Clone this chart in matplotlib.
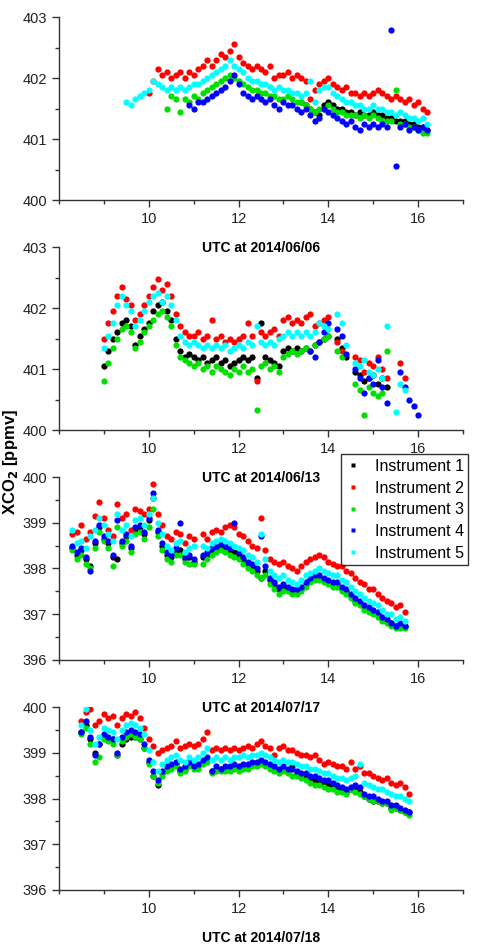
import numpy as np
import matplotlib.pyplot as plt
from matplotlib.ticker import MultipleLocator

plt.rcParams['font.family'] = ['Liberation Sans', 'DejaVu Sans']

labels = ['Instrument 1', 'Instrument 2', 'Instrument 3', 'Instrument 4', 'Instrument 5']
colors = ['#000000', '#ff0000', '#00e000', '#0000ff', '#00ffff']
dates = ['2014/06/06', '2014/06/13', '2014/07/17', '2014/07/18']
ylims = [(400, 403), (400, 403), (396, 400), (396, 400)]
step = 0.1  # h between samples

nan = np.nan

# ---- 2014/06/06 ----
d0606_start = [13.4, 10.0, 10.4, 10.9, 9.5]
d0606_i1 = [401.6, 401.55, 401.5, 401.45, 401.4, 401.55, 401.6, 401.55, 401.5, 401.5,
            401.45, 401.45, 401.4, 401.45, 401.4, 401.4, 401.45, 401.4, 401.4, 401.35,
            401.35, 401.3, 401.3, 401.3, 401.25, 401.25, 401.2, 401.2, 401.15]
d0606_i2 = [401.75, 401.95, 402.15, 402.05, 402.1, 402.0, 402.05, 402.1, 402.0, 402.1,
            402.05, 402.15, 402.2, 402.3, 402.2, 402.3, 402.4, 402.35, 402.45, 402.55,
            402.35, 402.25, 402.2, 402.15, 402.2, 402.15, 402.1, 402.2, 402.0, 402.05,
            402.05, 402.1, 402.0, 402.05, 402.0, 401.95, 401.65, 401.8, 401.9, 401.95,
            402.0, 401.9, 401.85, 401.8, 401.85, 401.75, 401.75, 401.7, 401.75, 401.7,
            401.75, 401.8, 401.75, 401.7, 401.65, 401.7, 401.65, 401.6, 401.65, 401.55,
            401.6, 401.5, 401.45]
d0606_i3 = [401.5, 401.7, 401.65, 401.45, 401.65, 401.6, 401.7, 401.65, 401.75, 401.8,
            401.85, 401.9, 401.95, 402.0, 402.05, 402.0, 401.95, 401.9, 401.85, 401.8,
            401.8, 401.75, 401.75, 401.7, 401.7, 401.65, 401.65, 401.7, 401.65, 401.6,
            401.6, 401.55, 401.5, 401.45, 401.5, 401.5, 401.55, 401.5, 401.45, 401.45,
            401.4, 401.4, 401.4, 401.35, 401.4, 401.35, 401.4, 401.35, 401.3, 401.3,
            401.3, 401.8, 401.25, 401.25, 401.2, 401.2, 401.15, 401.1, 401.1]
d0606_i4 = [401.55, 401.5, 401.6, 401.6, 401.65, 401.7, 401.75, 401.8, 401.85, 401.95,
            402.05, 401.9, 401.75, 401.7, 401.65, 401.7, 401.65, 401.6, 401.65, 401.55,
            401.5, 401.6, 401.55, 401.55, 401.5, 401.45, 401.5, 401.4, 401.3, 401.35,
            401.5, 401.45, 401.4, 401.35, 401.3, 401.25, 401.3, 401.2, 401.15, 401.25,
            401.2, 401.25, 401.2, 401.25, 401.2, 402.78, 400.56, 401.2, 401.25, 401.15,
            401.2, 401.15, 401.2, 401.15]
d0606_i5 = [401.6, 401.55, 401.65, 401.7, 401.75, 401.8, 401.95, 401.9, 401.85, 401.8,
            401.85, 401.8, 401.85, 401.8, 401.85, 401.9, 401.9, 401.95, 402.0, 402.05,
            402.1, 402.15, 402.2, 402.3, 402.2, 402.15, 402.1, 402.0, 401.95, 401.95,
            401.9, 401.9, 401.85, 401.8, 401.85, 401.8, 401.8, 401.75, 401.75, 401.7,
            401.75, 401.95, 401.6, 401.8, 401.85, 401.85, 401.75, 401.7, 401.65, 401.6,
            401.6, 401.55, 401.55, 401.5, 401.5, 401.55, 401.5, 401.5, 401.45, 401.45,
            401.4, 401.45, 401.4, 401.35, 401.35, 401.3, 401.35, 401.25]

# ---- 2014/06/13 ----
d0613_start = [9.0, 9.0, 9.0, 13.6, 9.0]
d0613_i1 = [401.05, 401.3, 401.5, 401.6, 401.75, 401.8, 401.7, 401.4, 401.55, 401.65,
            401.75, 401.95, 402.05, 402.1, 401.95, 401.8, 401.5, 401.3, 401.2, 401.25,
            401.2, 401.15, 401.2, 401.1, 401.15, 401.2, 401.1, 401.15, 401.05, 401.1,
            401.15, 401.2, 401.15, 401.2, 400.85, 401.75, 401.2, 401.15, 401.1, 401.05,
            401.3, 401.35, 401.3, 401.35, 401.3, 401.35, 401.3, 401.4, 401.45, 401.5,
            401.55, nan, 401.5, 401.35, 401.2, nan, 400.95, 400.9, 400.8, 400.85,
            400.9, 400.75, 400.85, 400.7]
d0613_i2 = [401.5, 401.75, 401.95, 402.2, 402.35, 402.15, 402.05, 401.8, 401.9, 402.05,
            402.2, 402.35, 402.47, 402.3, 402.4, 402.2, 401.9, 401.7, 401.6, 401.55,
            401.55, 401.6, 401.5, 401.55, 401.8, 401.5, 401.55, 401.45, 401.5, 401.45,
            401.5, 401.55, 401.75, 401.55, 400.8, 401.6, 401.55, 401.6, 401.65, 401.55,
            401.8, 401.85, 401.75, 401.8, 401.75, 401.85, 401.9, 401.7, 401.75, 401.8,
            401.85, nan, 401.45, 401.3, nan, nan, 401.2, 401.15, 400.95, 401.1,
            401.05, 401.2, 401.0, 400.85, nan, nan, 401.1, 400.85]
d0613_i3 = [400.8, 401.1, 401.35, 401.5, 401.65, 401.7, 401.6, 401.35, 401.45, 401.6,
            401.7, 401.8, 401.9, 401.95, 401.85, 401.7, 401.4, 401.2, 401.15, 401.1,
            401.05, 401.1, 401.0, 401.05, 400.95, 401.05, 401.0, 400.95, 400.9, 401.0,
            400.95, 401.05, 400.95, 401.0, 400.33, 401.05, 401.1, 401.0, 401.05, 400.95,
            401.2, 401.25, 401.3, 401.25, 401.3, 401.35, 401.3, 401.4, 401.45, 401.5,
            401.55, nan, 401.3, 401.2, nan, nan, 400.75, 400.65, 400.25, 400.7,
            400.6, 400.55, 400.6, 401.3]
d0613_i4 = [401.3, 401.2, 401.45, 401.6, 401.75, nan, 401.65, 401.55, 401.25, nan,
            401.0, 400.85, 400.6, 400.85, 400.75, 401.15, 400.7, 400.45, nan, nan,
            400.95, 400.7, 400.5, 400.4, 400.25]
d0613_i5 = [401.35, 401.55, 401.75, 402.05, 402.2, 402.05, 401.95, 401.7, 401.8, 401.95,
            402.1, 402.2, 402.25, 402.1, 402.2, 402.05, 401.8, 401.55, 401.45, 401.4,
            401.45, 401.4, 401.35, 401.4, 401.35, 401.4, 401.35, 401.4, 401.3, 401.35,
            401.4, 401.35, 401.45, 401.4, 401.7, 401.45, 401.4, 401.45, 401.4, 401.5,
            401.55, 401.6, 401.55, 401.6, 401.55, 401.6, 401.55, 401.6, 401.75, 401.7,
            401.65, nan, 401.9, 401.75, 401.4, nan, 401.1, 401.05, 401.15, 400.95,
            400.9, 401.0, 400.85, 401.7, nan, 400.3, 400.75, 400.65]

# ---- 2014/07/17 ----
d0717_start = [8.3, 8.3, 8.3, 8.3, 8.3]
d0717_i1 = [398.45, 398.3, 398.4, 398.2, 398.05, 398.55, 398.9, 398.65, 398.55, 398.25,
            398.2, 398.55, 398.7, 398.45, 398.85, 398.9, 398.75, 399.05, 399.55, 398.8,
            398.5, 398.3, 398.25, 398.4, 398.4, 398.2, 398.25, 398.15, nan, 398.25,
            398.3, 398.4, 398.45, 398.5, 398.45, 398.4, 398.35, 398.3, 398.2, 398.1,
            398.05, 397.95, 397.8, 397.95, 397.75, 397.65, 397.55, 397.6, 397.55, 397.5,
            397.5, 397.55, 397.65, 397.75, 397.8, 397.8, 397.75, 397.7, 397.65, 397.65,
            397.55, 397.5, 397.4, 397.3, 397.25, 397.15, 397.1, 397.05, 397.0, 396.9,
            396.85, 396.8, 396.75, 396.75, 396.75]
d0717_i2 = [398.75, 398.8, 398.95, 398.65, 398.8, 399.15, 399.45, 399.1, 398.85, 398.7,
            399.4, 399.1, 399.2, 398.85, 399.3, 399.25, 399.2, 399.3, 399.85, 399.2,
            398.95, 398.7, 398.65, 398.8, 398.75, 398.55, 398.7, 398.65, nan, 398.75,
            398.65, 398.8, 398.85, 398.8, 398.9, 398.95, 398.9, 398.75, 398.7, 398.6,
            398.5, 398.45, 399.1, 398.4, 398.2, 398.15, 398.1, 398.15, 398.05, 398.0,
            397.95, 398.05, 398.15, 398.2, 398.25, 398.3, 398.25, 398.15, 398.1, 398.05,
            398.05, 397.95, 397.9, 397.8, 397.7, 397.65, 397.55, 397.55, 397.45, 397.35,
            397.3, 397.25, 397.15, 397.2, 397.05]
d0717_i3 = [398.4, 398.2, 398.3, 398.1, 398.0, 398.45, 398.8, 398.6, 398.45, 398.05,
            398.9, 398.5, 398.6, 398.35, 398.75, 398.8, 398.65, 398.9, 399.3, 398.7,
            398.4, 398.2, 398.15, 398.3, 398.3, 398.15, 398.1, 398.1, nan, 398.1,
            398.2, 398.3, 398.35, 398.4, 398.35, 398.3, 398.25, 398.2, 398.1, 398.0,
            397.95, 397.85, 397.8, 397.85, 397.65, 397.55, 397.45, 397.5, 397.5, 397.45,
            397.45, 397.5, 397.6, 397.7, 397.75, 397.75, 397.7, 397.65, 397.6, 397.6,
            397.5, 397.45, 397.35, 397.25, 397.2, 397.1, 397.05, 397.0, 396.95, 396.85,
            396.8, 396.75, 396.7, 396.7, 396.7]
d0717_i4 = [398.5, 398.35, 398.45, 398.25, 397.95, 398.6, 398.95, 398.7, 398.6, 398.3,
            399.05, 398.6, 398.75, 398.5, 398.9, 398.95, 398.8, 399.1, 399.65, 398.85,
            398.55, 398.35, 398.3, 398.45, 399.0, 398.25, 398.3, 398.2, nan, 398.3,
            398.35, 398.45, 398.5, 398.55, 398.5, 398.45, 399.0, 398.35, 398.25, 398.15,
            398.1, 398.0, 398.7, 398.05, 397.8, 397.7, 397.6, 397.65, 397.6, 397.55,
            397.55, 397.6, 397.7, 397.8, 397.85, 397.85, 397.8, 397.75, 397.7, 397.7,
            397.6, 397.55, 397.45, 397.35, 397.3, 397.2, 397.15, 397.1, 397.05, 396.95,
            396.9, 396.8, 396.75, 396.8, 396.75]
d0717_i5 = [398.85, 398.55, 398.6, 398.45, 398.7, 398.85, 399.1, 398.95, 398.75, 398.6,
            399.2, 398.85, 398.95, 398.7, 399.05, 399.1, 398.95, 399.2, 399.55, 399.0,
            398.75, 398.5, 398.4, 398.55, 398.6, 398.35, 398.45, 398.5, nan, 398.5,
            398.45, 398.55, 398.6, 398.65, 398.6, 398.55, 398.5, 398.45, 398.4, 398.3,
            398.25, 398.15, 398.75, 398.2, 397.95, 397.85, 397.8, 397.85, 397.75, 397.7,
            397.65, 397.75, 397.85, 397.9, 397.95, 398.0, 397.95, 397.9, 397.85, 397.85,
            397.75, 397.7, 397.6, 397.5, 397.45, 397.35, 397.3, 397.25, 397.2, 397.1,
            397.0, 397.0, 396.9, 396.95, 396.85]

# ---- 2014/07/18 ----
d0718_start = [8.5, 8.5, 8.5, 8.5, 8.5]
d0718_i1 = [399.45, 399.6, 399.3, 399.0, 399.2, 399.35, 399.3, 399.3, 398.95, 399.2,
            399.3, 399.35, 399.35, 399.3, 399.1, 398.8, 398.5, 398.3, 398.55, 398.65,
            398.7, 398.75, 398.6, 398.65, 398.75, 398.7, 398.7, 398.8, 398.85, 398.6,
            398.65, 398.65, 398.65, 398.65, 398.7, 398.65, 398.7, 398.7, 398.75, 398.75,
            398.8, 398.75, 398.7, 398.65, 398.6, 398.65, 398.6, 398.7, 398.55, 398.5,
            398.45, 398.45, 398.4, 398.35, 398.3, 398.3, 398.25, 398.2, 398.2, 398.15,
            398.2, 398.2, 398.15, 398.05, 398.0, 397.95, 397.95, 397.9, 397.9, 397.8,
            397.8, 397.75, 397.7, 397.7]
d0718_i2 = [399.7, 399.9, 399.95, 399.6, 399.7, 399.85, 399.75, 399.8, 399.6, 399.75,
            399.85, 399.8, 399.9, 399.75, 399.55, 399.3, 399.15, 399.0, 399.05, 399.1,
            399.15, 399.25, 399.1, 399.15, 399.2, 399.15, 399.2, 399.3, 399.45, 399.05,
            399.1, 399.05, 399.1, 399.05, 399.1, 399.05, 399.1, 399.15, 399.1, 399.2,
            399.25, 399.15, 399.1, 398.95, 399.1, 399.15, 399.05, 399.05, 399.0, 398.95,
            398.95, 398.9, 398.95, 398.85, 398.75, 398.8, 398.75, 398.7, 398.7, 398.65,
            398.8, 398.65, 398.7, 398.55, 398.55, 398.5, 398.45, 398.4, 398.45, 398.35,
            398.3, 398.35, 398.25, 398.1]
d0718_i3 = [399.4, 399.55, 399.2, 398.8, 398.9, 399.3, 399.25, 399.2, 398.95, 399.25,
            399.35, 399.4, 399.35, 399.3, 399.1, 398.75, 398.5, 398.35, 398.5, 398.6,
            398.65, 398.7, 398.55, 398.6, 398.7, 398.65, 398.65, 398.75, 398.8, 398.55,
            398.6, 398.6, 398.6, 398.6, 398.65, 398.6, 398.65, 398.65, 398.7, 398.7,
            398.75, 398.7, 398.65, 398.6, 398.55, 398.6, 398.55, 398.5, 398.5, 398.45,
            398.4, 398.35, 398.3, 398.3, 398.25, 398.2, 398.2, 398.15, 398.15, 398.1,
            398.2, 398.15, 398.1, 398.05, 398.0, 397.95, 397.95, 397.9, 397.9, 397.75,
            397.8, 397.75, 397.7, 397.65]
d0718_i4 = [399.45, 399.7, 399.35, 398.95, 399.2, 399.4, 399.35, 399.3, 399.0, 399.35,
            399.45, 399.5, 399.45, 399.4, 399.2, 398.85, 398.6, 398.4, 398.6, 398.7,
            398.75, 398.8, 398.65, 398.7, 398.8, 398.7, 398.75, 398.85, 398.9, 398.6,
            398.7, 398.65, 398.7, 398.7, 398.75, 398.7, 398.75, 398.75, 398.8, 398.8,
            398.85, 398.8, 398.75, 398.7, 398.65, 398.7, 398.65, 398.65, 398.6, 398.55,
            398.55, 398.5, 398.5, 398.45, 398.4, 398.4, 398.35, 398.3, 398.25, 398.2,
            398.25, 398.3, 398.25, 398.1, 398.05, 398.05, 398.0, 397.95, 397.95, 397.85,
            397.85, 397.8, 397.75, 397.7]
d0718_i5 = [399.6, 399.95, 399.5, 399.2, 399.35, 399.55, 399.5, 399.45, 399.3, 399.5,
            399.6, 399.65, 399.6, 399.55, 399.4, 399.05, 398.8, 398.6, 398.75, 398.85,
            398.9, 398.95, 398.85, 398.8, 398.9, 398.85, 398.9, 399.0, 399.1, 398.85,
            398.9, 398.85, 398.9, 398.85, 398.9, 398.9, 398.95, 398.9, 398.95, 398.95,
            399.0, 398.95, 398.9, 398.85, 398.8, 398.85, 398.8, 398.8, 398.75, 398.7,
            398.7, 398.65, 398.65, 398.6, 398.55, 398.55, 398.5, 398.45, 398.45, 398.4,
            398.45, 398.5, 398.75, 398.35, 398.3, 398.25, 398.2, 398.2, 398.15, 398.1,
            398.05, 398.05, 398.0, 397.95]

panels = [
    (d0606_start, [d0606_i1, d0606_i2, d0606_i3, d0606_i4, d0606_i5]),
    (d0613_start, [d0613_i1, d0613_i2, d0613_i3, d0613_i4, d0613_i5]),
    (d0717_start, [d0717_i1, d0717_i2, d0717_i3, d0717_i4, d0717_i5]),
    (d0718_start, [d0718_i1, d0718_i2, d0718_i3, d0718_i4, d0718_i5]),
]

fig = plt.figure(figsize=(4.97, 9.47), dpi=100)
bottoms = [0.7888, 0.5459, 0.3031, 0.0602]

for k, (starts, series) in enumerate(panels):
    ax = fig.add_axes([0.1187, bottoms[k], 0.8129, 0.1932])
    ax.set_facecolor('none')  # keep the xlabel above visible
    for i, vals in enumerate(series):
        t = starts[i] + step * np.arange(len(vals))
        ax.plot(t, vals, 'o', ms=4.5, mec='none', color=colors[i], label=labels[i])
    ax.set_xlim(8, 17)
    ax.set_ylim(*ylims[k])
    ax.xaxis.set_major_locator(MultipleLocator(2))
    ax.xaxis.set_minor_locator(MultipleLocator(1))
    ax.yaxis.set_major_locator(MultipleLocator(1))
    ax.yaxis.set_minor_locator(MultipleLocator(0.5))
    ax.set_xticks([10, 12, 14, 16])
    for s in ['top', 'right']:
        ax.spines[s].set_visible(False)
    for s in ['left', 'bottom']:
        ax.spines[s].set_color('#333333')
        ax.spines[s].set_linewidth(1.0)
    ax.tick_params(which='major', direction='out', length=5, width=1,
                   labelsize=10.5, color='#333333', labelcolor='#222222')
    ax.tick_params(which='minor', direction='out', length=3, width=1, color='#333333')
    ax.set_xlabel('UTC at ' + dates[k], fontsize=10, fontweight='bold')
    ax.xaxis.set_label_coords(0.5, -0.225)
    if k == 0:
        handles, hl = ax.get_legend_handles_labels()

fig.text(0.022, 1 - 462 / 947, r'XCO$_\mathbf{2}$ [ppmv]', rotation=90,
         fontsize=12, fontweight='bold', ha='center', va='center')

leg = fig.legend(handles, hl, loc='upper left', bbox_to_anchor=(341 / 497, 1 - 454 / 947),
                 fontsize=11.5, frameon=True, fancybox=False, edgecolor='black',
                 handlelength=0.9, handletextpad=0.9, borderpad=0.3,
                 labelspacing=0.42, markerscale=0.7, borderaxespad=0)
leg.get_frame().set_linewidth(1.0)
leg.set_zorder(10)
for h in leg.legend_handles:
    h.set_marker('s')

fig.savefig('out.png', dpi=100)
